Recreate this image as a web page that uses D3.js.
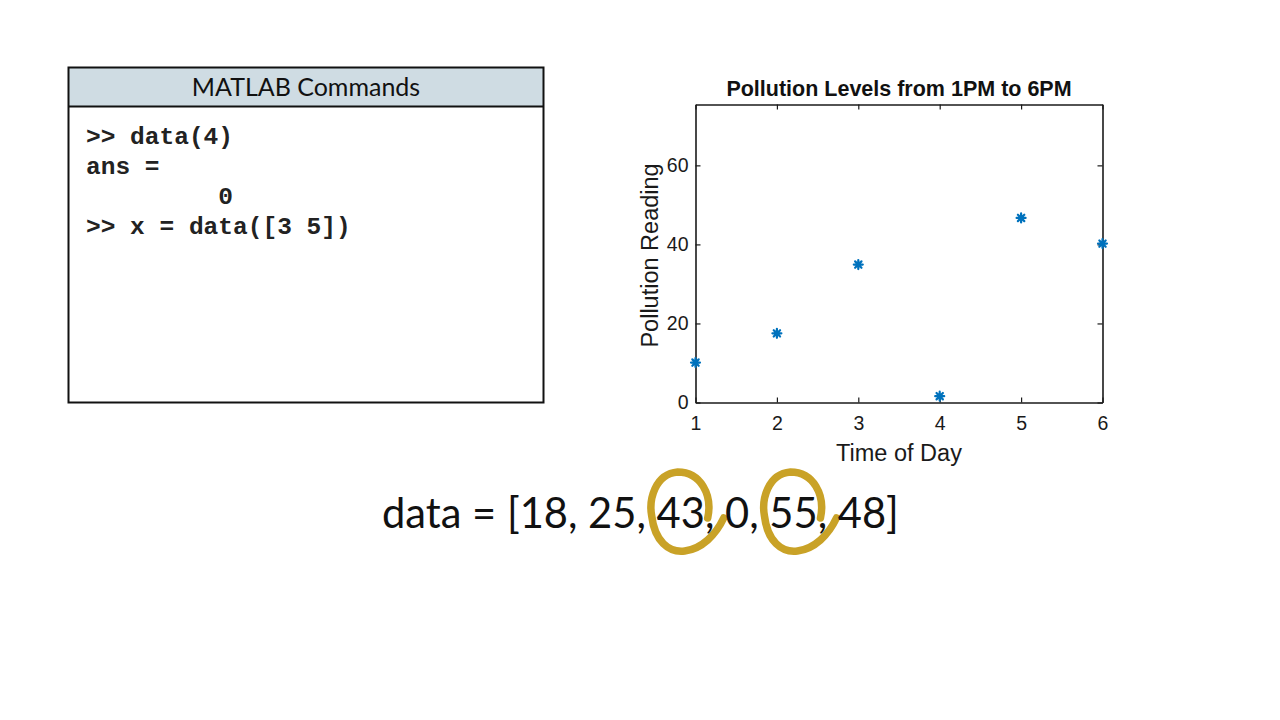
<!DOCTYPE html>
<html>
<head>
<meta charset="utf-8">
<script src="https://cdn.jsdelivr.net/npm/d3@7"></script>
<style>
  html, body { margin: 0; padding: 0; background: #fff; }
  svg { display: block; }
</style>
</head>
<body>
<div id="chart"></div>
<script>
// data
var times = [1, 2, 3, 4, 5, 6];
var readings = [10.1, 17.5, 34.9, 1.6, 46.7, 40.2];
var xTicks = [1, 2, 3, 4, 5, 6];
var yTicks = [0, 20, 40, 60];
var commandLines = [">> data(4)", "ans =", "         0", ">> x = data([3 5])"];
var dataValues = [18, 25, 43, 0, 55, 48];
var circled = [2, 4];   // indexes of data values with a loop round them

var W = 1280, H = 720;
var svg = d3.select("#chart").append("svg")
    .attr("width", W)
    .attr("height", H);

// ---- MATLAB Commands panel
var panel = svg.append("g");
panel.append("rect")
    .attr("x", 68.5).attr("y", 67.5)
    .attr("width", 475).attr("height", 39)
    .attr("fill", "#cfdce3");
panel.append("rect")
    .attr("x", 68.5).attr("y", 67.5)
    .attr("width", 475).attr("height", 335)
    .attr("fill", "none")
    .attr("stroke", "#111")
    .attr("stroke-width", 2);
panel.append("line")
    .attr("x1", 68.5).attr("x2", 543.5)
    .attr("y1", 106.5).attr("y2", 106.5)
    .attr("stroke", "#111")
    .attr("stroke-width", 2);
panel.append("text")
    .attr("x", 306).attr("y", 96)
    .attr("text-anchor", "middle")
    .attr("font-family", "Lato, 'Open Sans', sans-serif")
    .attr("font-size", 25)
    .attr("fill", "#111")
    .text("MATLAB Commands");

panel.selectAll("text.cmd")
    .data(commandLines)
  .enter().append("text")
    .attr("class", "cmd")
    .attr("x", 86)
    .attr("y", function(d, i) { return 144 + i * 30; })
    .attr("font-family", "'Liberation Mono', 'DejaVu Sans Mono', monospace")
    .attr("font-weight", "bold")
    .attr("font-size", 24.5)
    .attr("fill", "#222")
    .style("white-space", "pre")
    .attr("xml:space", "preserve")
    .text(function(d) { return d; });

// ---- scatter plot
var x = d3.scaleLinear().domain([1, 6]).range([695.5, 1102.5]);
var y = d3.scaleLinear().domain([0, 75.4]).range([402.5, 104.5]);

var plot = svg.append("g");
var tickFont = "'Liberation Sans', Arial, sans-serif";
var fmt = d3.format("d");

plot.append("g")
    .attr("transform", "translate(0," + y(0) + ")")
    .call(d3.axisBottom(x).tickValues(xTicks).tickFormat(fmt).tickSizeInner(-5).tickSizeOuter(0).tickPadding(14))
    .call(styleAxis);
plot.append("g")
    .attr("transform", "translate(0," + y.range()[1] + ")")
    .call(d3.axisTop(x).tickValues(xTicks).tickSizeInner(-5).tickSizeOuter(0).tickFormat(""))
    .call(styleAxis);
plot.append("g")
    .attr("transform", "translate(" + x(1) + ",0)")
    .call(d3.axisLeft(y).tickValues(yTicks).tickFormat(fmt).tickSizeInner(-5).tickSizeOuter(0).tickPadding(7))
    .call(styleAxis);
plot.append("g")
    .attr("transform", "translate(" + x(6) + ",0)")
    .call(d3.axisRight(y).tickValues(yTicks).tickSizeInner(-5).tickSizeOuter(0).tickFormat(""))
    .call(styleAxis);

function styleAxis(g) {
  g.select(".domain").attr("stroke", "#1a1a1a").attr("stroke-width", 1.6);
  g.selectAll(".tick line").attr("stroke", "#1a1a1a").attr("stroke-width", 1.2);
  g.selectAll(".tick text")
      .attr("fill", "#1a1a1a")
      .attr("font-family", tickFont)
      .attr("font-size", 19.5);
}

plot.append("text")
    .attr("x", (x(1) + x(6)) / 2).attr("y", 96)
    .attr("text-anchor", "middle")
    .attr("font-family", tickFont)
    .attr("font-weight", "bold")
    .attr("font-size", 21.5)
    .attr("fill", "#111")
    .text("Pollution Levels from 1PM to 6PM");
plot.append("text")
    .attr("x", (x(1) + x(6)) / 2).attr("y", 461)
    .attr("text-anchor", "middle")
    .attr("font-family", tickFont)
    .attr("font-size", 23.5)
    .attr("fill", "#1a1a1a")
    .text("Time of Day");
plot.append("text")
    .attr("transform", "translate(658," + y(37.2) + ") rotate(-90)")
    .attr("text-anchor", "middle")
    .attr("font-family", tickFont)
    .attr("font-size", 23.5)
    .attr("fill", "#1a1a1a")
    .text("Pollution Reading");

// asterisk markers
var star = d3.range(4).map(function(k) {
  var a = k * Math.PI / 4, r = 4.5;
  return "M" + (-r * Math.cos(a)) + "," + (-r * Math.sin(a)) + "L" + (r * Math.cos(a)) + "," + (r * Math.sin(a));
}).join("");
plot.selectAll("path.pt")
    .data(times)
  .enter().append("path")
    .attr("class", "pt")
    .attr("transform", function(d, i) { return "translate(" + x(d) + "," + y(readings[i]) + ")"; })
    .attr("d", star)
    .attr("stroke", "#0072BD")
    .attr("stroke-width", 2.2)
    .attr("stroke-linecap", "round");

// ---- data line with loops
var dataText = svg.append("text")
    .attr("class", "dataline")
    .attr("x", 382).attr("y", 528)
    .attr("font-family", "Lato, 'Open Sans', sans-serif")
    .attr("font-size", 46)
    .attr("fill", "#111");
dataText.append("tspan").text("data = [");
var spans = [];
dataValues.forEach(function(v, i) {
  spans.push(dataText.append("tspan").text(String(v)));
  dataText.append("tspan").text(i < dataValues.length - 1 ? ", " : "]");
});
var full = dataText.node().getComputedTextLength();
dataText.attr("font-size", 46 * 517 / full);

// hand-drawn loop shape, relative to the centre of the circled number
var loopPath = "M27,6 C32,-17 20,-40 -3,-40 C-26,-38 -32,-12 -29,4 C-26,29 -12,41 4,39 C21,37 35,23 43,6";
circled.forEach(function(i) {
  var bb = spans[i].node().getBBox();
  var cx = bb.x + bb.width / 2;
  svg.insert("path", "text.dataline")
      .attr("transform", "translate(" + cx + ",512)")
      .attr("d", loopPath)
      .attr("fill", "none")
      .attr("stroke", "#c9a227")
      .attr("stroke-width", 7.5)
      .attr("stroke-linecap", "round");
});
</script>
</body>
</html>
